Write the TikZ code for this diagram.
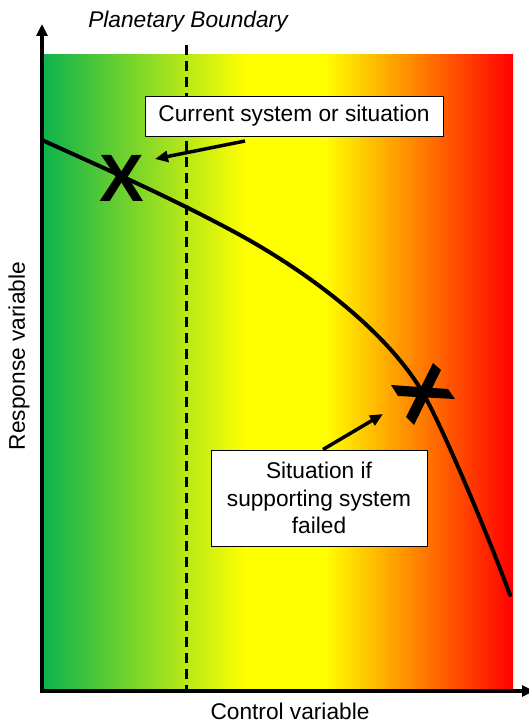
\documentclass[tikz,border=0pt]{standalone}
\usepackage{fontspec}
\setmainfont{Liberation Sans}
\usetikzlibrary{arrows.meta}
\definecolor{cgreen}{RGB}{12,178,78}
\definecolor{cyellow}{RGB}{255,255,0}
\definecolor{cred}{RGB}{255,0,0}
\pgfdeclarehorizontalshading{bgshade}{100bp}{color(0bp)=(cgreen); color(25bp)=(cgreen); color(46.6bp)=(cyellow); color(55bp)=(cyellow); color(75bp)=(cred); color(100bp)=(cred)}
\begin{document}
\begin{tikzpicture}[x=1pt,y=-1pt,
  axisline/.style={line width=4pt,-{Triangle[length=12pt,width=11pt]}},
  labelbox/.style={draw=black,line width=1pt,fill=white,align=center,inner sep=0pt},
  pointer/.style={line width=3.5pt,-{Triangle[length=13pt,width=11pt]}},
  txt/.style={font=\fontsize{22.7}{27.5}\selectfont}]
\useasboundingbox (0,0) rectangle (528,725);
% gradient background
\shade[shading=bgshade] (42,55) rectangle (513,691);
% planetary boundary
\coordinate (pbtop) at (186,45);
\coordinate (pbbot) at (186,690);
\draw[line width=3pt,dash pattern=on 10pt off 6pt] (pbtop) -- (pbbot);
\node[font=\fontsize{22.7}{27.5}\selectfont\itshape] (pb) at (188,22) {Planetary Boundary};
% curve
\draw[line width=4pt,line cap=round] (42,140) .. controls (108,170) and (174,199) .. (240,235)
  .. controls (300,268) and (380,324) .. (420,388)
  .. controls (440,420) and (490,540) .. (510,595);
% axes
\coordinate (origin) at (42,691);
\coordinate (ytop) at (42,24);
\coordinate (xend) at (534,691);
\draw[axisline] ([yshift=2pt]origin) -- (ytop);
\draw[axisline] ([xshift=-2pt]origin) -- (xend);
\node[txt,rotate=90] (ylab) at (19,356) {Response variable};
\node[txt] (xlab) at (290,711) {Control variable};
% X marks
\node[font=\fontsize{67}{67}\selectfont\bfseries,inner sep=0pt] (x1) at (122,178) {X};
\coordinate (x2) at (422,393);
\fill (391,385) -- (448,389) -- (455,399) -- (398,396) -- cycle;
\fill (433,363) -- (441,370) -- (414,425) -- (406,417) -- cycle;
% labels
\node[labelbox,txt,minimum width=298pt,minimum height=40pt] (b1) at (294,116) {Current system or situation};
\node[labelbox,txt,minimum width=216pt,minimum height=96pt] (b2) at (319,498) {Situation if\\supporting system\\failed};
\coordinate (p1) at (155,159);
\coordinate (p2) at (383,414);
\draw[pointer] (245,141) -- (p1);
\draw[pointer] (b2.north) ++(4,0) -- (p2);
\end{tikzpicture}
\end{document}
